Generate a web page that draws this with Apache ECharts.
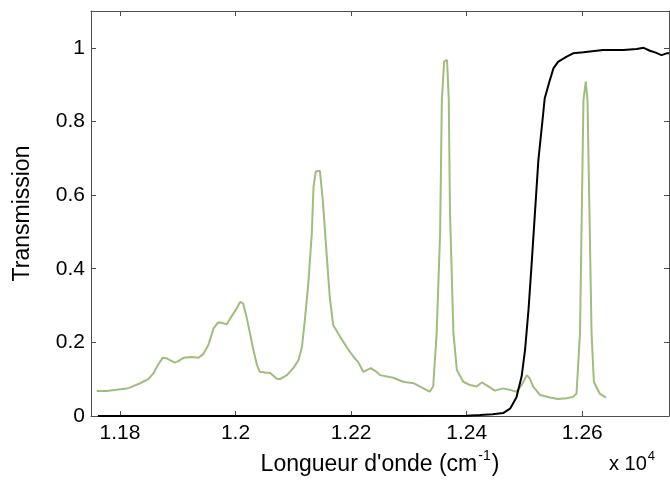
<!DOCTYPE html>
<html>
<head>
<meta charset="utf-8">
<script src="https://cdn.jsdelivr.net/npm/echarts@6/dist/echarts.min.js"></script>
<style>
html,body{margin:0;padding:0;background:#fff;}
#chart{width:670px;height:483px;}
</style>
</head>
<body>
<div id="chart"></div>
<script>
// X tick values (cm^-1) and labels (x 10^4)
const xTicks = [11800, 12000, 12200, 12400, 12600];
const yTicks = [0, 0.2, 0.4, 0.6, 0.8, 1];

// Black curve (filter transmission)
const blackX = [11762, 11800, 11900, 12000, 12100, 12200, 12300, 12400, 12423, 12445, 12463, 12475, 12486, 12495, 12501, 12507, 12512, 12518, 12524, 12530, 12535, 12544, 12550, 12558, 12573, 12584, 12602, 12636, 12671, 12694, 12706, 12717, 12727, 12737, 12746, 12750];
const blackY = [0, 0, 0, 0, 0, 0, 0, 0.001, 0.003, 0.005, 0.008, 0.02, 0.05, 0.107, 0.18, 0.29, 0.405, 0.55, 0.695, 0.786, 0.863, 0.913, 0.944, 0.962, 0.976, 0.985, 0.988, 0.994, 0.994, 0.997, 1.0, 0.992, 0.987, 0.980, 0.985, 0.985];

// Green curve (spectrum)
const greenX = [11760, 11777, 11794, 11812, 11817, 11835, 11849, 11858, 11866, 11874, 11880, 11895, 11901, 11910, 11924, 11936, 11944, 11953, 11962, 11970, 11976, 11985, 11993, 12002, 12008, 12013, 12019, 12025, 12031, 12037, 12042, 12051, 12060, 12071, 12077, 12089, 12100, 12109, 12115, 12120, 12126, 12132, 12135, 12139, 12146, 12151, 12158, 12163, 12169, 12181, 12192, 12204, 12212, 12221, 12234, 12244, 12250, 12273, 12290, 12308, 12325, 12336, 12342, 12348, 12354, 12357, 12361, 12366, 12369, 12371, 12377, 12383, 12394, 12406, 12417, 12426, 12434, 12449, 12463, 12475, 12486, 12495, 12504, 12509, 12515, 12527, 12544, 12558, 12573, 12584, 12590, 12596, 12602, 12606, 12609, 12616, 12620, 12630, 12641];
const greenY = [0.068, 0.068, 0.071, 0.075, 0.077, 0.089, 0.100, 0.116, 0.139, 0.158, 0.157, 0.145, 0.149, 0.158, 0.160, 0.158, 0.168, 0.193, 0.238, 0.254, 0.253, 0.249, 0.270, 0.292, 0.310, 0.306, 0.270, 0.225, 0.179, 0.139, 0.120, 0.118, 0.117, 0.102, 0.100, 0.111, 0.130, 0.152, 0.188, 0.261, 0.360, 0.496, 0.623, 0.664, 0.666, 0.587, 0.433, 0.324, 0.247, 0.215, 0.188, 0.161, 0.147, 0.120, 0.130, 0.120, 0.111, 0.104, 0.093, 0.089, 0.075, 0.066, 0.080, 0.225, 0.496, 0.858, 0.963, 0.967, 0.858, 0.560, 0.225, 0.125, 0.093, 0.084, 0.080, 0.091, 0.084, 0.069, 0.075, 0.071, 0.066, 0.084, 0.111, 0.102, 0.080, 0.057, 0.050, 0.046, 0.048, 0.052, 0.061, 0.225, 0.858, 0.908, 0.858, 0.225, 0.093, 0.061, 0.050];

const FONT = 'Liberation Sans, Arial, sans-serif';
const AX = '#4d4d4d';

const chart = echarts.init(document.getElementById('chart'), null, {renderer: 'canvas'});

const xFmt = v => String(+(v / 10000).toFixed(2));
const yFmt = v => String(+(+v).toFixed(1));

const option = {
  animation: false,
  backgroundColor: '#fff',
  grid: {left: 91, top: 11, right: 1, bottom: 67, containLabel: false},
  xAxis: [{
    type: 'value', position: 'bottom', min: 11750, max: 12750,
    name: '{t|Longueur d\'onde (cm}{s|-1}{t|)}',
    nameLocation: 'middle', nameGap: 31,
    nameTextStyle: {
      rich: {
        t: {fontFamily: FONT, fontSize: 23, color: '#000', lineHeight: 27, verticalAlign: 'bottom'},
        s: {fontFamily: FONT, fontSize: 14, color: '#000', lineHeight: 27, verticalAlign: 'top', padding: [0, 1, 0, 1]}
      }
    },
    axisLine: {show: true, lineStyle: {color: AX, width: 1}},
    axisTick: {show: true, inside: true, length: 5, customValues: xTicks, lineStyle: {color: AX}},
    axisLabel: {show: true, customValues: xTicks, formatter: xFmt, fontFamily: FONT, fontSize: 21, color: '#000', margin: 7},
    splitLine: {show: false}
  }, {
    type: 'value', position: 'top', min: 11750, max: 12750,
    axisLine: {show: true, onZero: false, lineStyle: {color: AX, width: 1}},
    axisTick: {show: true, inside: true, length: 5, customValues: xTicks, lineStyle: {color: AX}},
    axisLabel: {show: false},
    splitLine: {show: false}
  }],
  yAxis: [{
    type: 'value', position: 'left', min: 0, max: 1.1,
    name: 'Transmission', nameLocation: 'middle', nameGap: 57,
    nameTextStyle: {fontFamily: FONT, fontSize: 23, color: '#000'},
    axisLine: {show: true, lineStyle: {color: AX, width: 1}},
    axisTick: {show: true, inside: true, length: 5, customValues: yTicks, lineStyle: {color: AX}},
    axisLabel: {show: true, customValues: yTicks, formatter: yFmt, fontFamily: FONT, fontSize: 21, color: '#000', margin: 6},
    splitLine: {show: false}
  }, {
    type: 'value', position: 'right', min: 0, max: 1.1,
    axisLine: {show: true, onZero: false, lineStyle: {color: AX, width: 1}},
    axisTick: {show: true, inside: true, length: 5, customValues: yTicks, lineStyle: {color: AX}},
    axisLabel: {show: false},
    splitLine: {show: false}
  }],
  graphic: [{
    type: 'text', left: 609, top: 450,
    style: {
      text: '{t|x 10}{s|4}',
      rich: {
        t: {fontFamily: FONT, fontSize: 20, fill: '#000', lineHeight: 24, verticalAlign: 'bottom'},
        s: {fontFamily: FONT, fontSize: 13, fill: '#000', lineHeight: 24, verticalAlign: 'top', padding: [0, 0, 0, 1]}
      }
    }
  }],
  series: [{
    type: 'line', name: 'spectre', xAxisIndex: 0, yAxisIndex: 0,
    data: greenX.map((x, i) => [x, greenY[i]]),
    showSymbol: false, symbol: 'none', smooth: false, clip: false,
    lineStyle: {color: '#9fbd7c', width: 2},
    z: 2
  }, {
    type: 'line', name: 'filtre', xAxisIndex: 0, yAxisIndex: 0,
    data: blackX.map((x, i) => [x, blackY[i]]),
    showSymbol: false, symbol: 'none', smooth: false, clip: false,
    lineStyle: {color: '#000', width: 2},
    z: 3
  }]
};
chart.setOption(option);
</script>
</body>
</html>
